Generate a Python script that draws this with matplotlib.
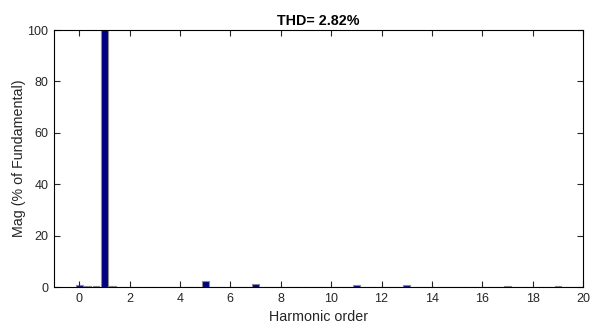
import numpy as np
import matplotlib.pyplot as plt

plt.rcParams['font.family'] = ['Liberation Sans', 'DejaVu Sans']

# harmonic order in steps of 1/3 from 0 to 20
harm_order = np.arange(61) / 3.0
mag = [0.6, 0.5, 0.25, 100.0, 0.2, 0.15, 0.15, 0.12, 0.1, 0.1, 0.1, 0.1,
       0.1, 0.1, 0.1, 2.2, 0.1, 0.1, 0.1, 0.1, 0.1, 1.3, 0.1, 0.1,
       0.1, 0.1, 0.1, 0.1, 0.1, 0.1, 0.1, 0.1, 0.1, 0.9, 0.1, 0.1,
       0.1, 0.1, 0.1, 0.7, 0.1, 0.1, 0.1, 0.1, 0.1, 0.1, 0.1, 0.1,
       0.1, 0.1, 0.1, 0.4, 0.1, 0.1, 0.1, 0.1, 0.1, 0.35, 0.1, 0.1,
       0.1]
thd = 2.82

fig = plt.figure(figsize=(5.92, 3.27), dpi=100)
ax = fig.add_axes([0.0912, 0.1223, 0.8938, 0.7857])

ax.bar(harm_order, mag, width=0.8 / 3, color='#000080',
       edgecolor='#8c8c8c', linewidth=0.8)

ax.set_xlim(-1, 20)
ax.set_ylim(0, 100)
ax.set_xticks(range(0, 21, 2))
ax.set_yticks(range(0, 101, 20))
ax.tick_params(direction='in', top=True, right=True, labelsize=9,
               length=4, width=0.8, pad=4, colors='#262626')
for s in ax.spines.values():
    s.set_linewidth(0.8)
ax.set_xlabel('Harmonic order', fontsize=10.3, color='#262626', labelpad=4)
ax.set_ylabel('Mag (% of Fundamental)', fontsize=10.3, color='#262626', labelpad=1)
ax.set_title('THD= %.2f%%' % thd, fontsize=10.3, fontweight='bold', pad=4)

fig.savefig('out.png', dpi=100)
